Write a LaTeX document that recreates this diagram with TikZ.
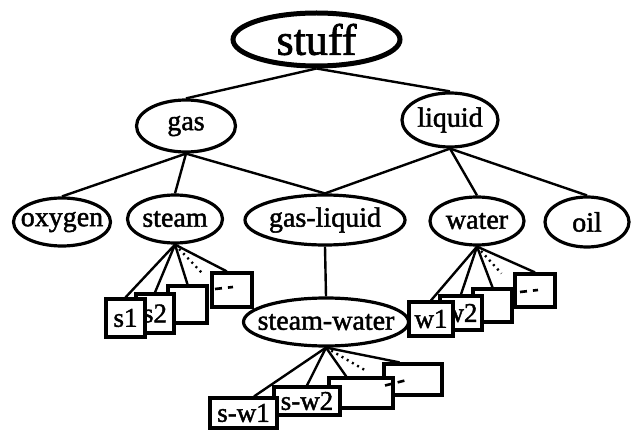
\documentclass[tikz,border=0pt]{standalone}
\usepackage{fontspec}
\setmainfont{Liberation Serif}[FakeBold=1.6]
\usetikzlibrary{shapes.geometric,calc,backgrounds}
\newcommand{\zw}[1]{\makebox[0pt][c]{#1}}
\begin{document}
\begin{tikzpicture}[x=1pt,y=-1pt,
  ell/.style={draw,ellipse,line width=3.2pt,inner sep=0pt,fill=white,font=\fontsize{28}{30}\selectfont},
  leaf/.style={draw,rectangle,line width=3.2pt,inner sep=0pt,fill=white,font=\fontsize{27}{29}\selectfont},
  link/.style={line width=2.4pt},
  more/.style={line width=2.4pt,dash pattern=on 2pt off 4pt},
  dashmark/.style={line width=2.6pt,dash pattern=on 7pt off 6pt}]
\useasboundingbox (0,0) rectangle (631,430);
% ellipses
\node[ell,line width=5pt,minimum width=167pt,minimum height=53pt,font=\fontsize{44}{46}\selectfont] (stuff) at (316.5,39.5) {\zw{stuff}};
\node[ell,minimum width=99pt,minimum height=52pt] (gas) at (186,126) {\zw{gas}};
\node[ell,minimum width=96pt,minimum height=54pt] (liquid) at (450,120) {\zw{liquid}};
\node[ell,minimum width=97pt,minimum height=48pt] (oxygen) at (62,222) {\zw{oxygen}};
\node[ell,minimum width=95pt,minimum height=48pt] (steam) at (175,219) {\zw{steam}};
\node[ell,minimum width=160pt,minimum height=50pt] (gasliquid) at (325,220) {\zw{gas-liquid}};
\node[ell,minimum width=94pt,minimum height=48pt] (water) at (477,221) {\zw{water}};
\node[ell,minimum width=84pt,minimum height=50pt] (oil) at (587,222) {\zw{oil}};
\node[ell,minimum width=165pt,minimum height=48pt] (steamwater) at (326,322) {\zw{steam-water}};
% steam instances (back to front)
\node[leaf,minimum width=40pt,minimum height=34pt] (s4) at (232,290) {};
\node[leaf,minimum width=39pt,minimum height=37pt] (s3) at (187.5,304.5) {};
\node[leaf,minimum width=38pt,minimum height=39pt] (s2) at (155,313.5) {s2};
\node[leaf,minimum width=39pt,minimum height=38pt] (s1) at (125.5,318) {s1};
% water instances
\node[leaf,minimum width=40pt,minimum height=33pt] (w4) at (535,290.5) {};
\node[leaf,minimum width=39pt,minimum height=33pt] (w3) at (492.5,305.5) {};
\node[leaf,minimum width=42pt,minimum height=34pt] (w2) at (461,313) {w2};
\node[leaf,minimum width=44pt,minimum height=34pt] (w1) at (431,319) {w1};
% steam-water instances
\node[leaf,minimum width=58pt,minimum height=31pt] (sw4) at (413,379.5) {};
\node[leaf,minimum width=64pt,minimum height=30pt] (sw3) at (361,393) {};
\node[leaf,minimum width=66pt,minimum height=28pt] (sw2) at (307,401) {s-w2};
\node[leaf,minimum width=67pt,minimum height=30pt] (sw1) at (243.5,413) {s-w1};
% free ends of the dotted "more" lines
\coordinate (smore) at ($(s4.north west)+(-9,1)$);
\coordinate (wmore) at ($(w4.north west)+(-12,1)$);
\coordinate (swmore) at ($(sw4.north west)+(-17,8)$);
\begin{pgfonlayer}{background}
\draw[link] (stuff.south) -- (gas.north);
\draw[link] (stuff.south) -- (liquid.north);
\draw[link] (gas.south) -- (oxygen.north);
\draw[link] (gas.south) -- (steam.north);
\draw[link] (gas.south) -- (gasliquid.north);
\draw[link] (liquid.south) -- (gasliquid.north);
\draw[link] (liquid.south) -- (water.north);
\draw[link] (liquid.south) -- (oil.north);
\draw[link] (gasliquid.south) -- (steamwater.north);
% steam fan
\draw[link] (steam.south) -- (s1.north);
\draw[link] (steam.south) -- (s2.north);
\draw[link] (steam.south) -- (s3.north);
\draw[more] (steam.south) -- (smore);
\draw[link] (steam.south) -- ($(s4.north west)!0.38!(s4.north east)$);
% water fan
\draw[link] (water.south) -- (w1.north);
\draw[link] (water.south) -- (w2.north);
\draw[link] (water.south) -- (w3.north);
\draw[more] (water.south) -- (wmore);
\draw[link] (water.south) -- (w4.north);
% steam-water fan
\draw[link] (steamwater.south) -- ($(sw1.north west)!0.65!(sw1.north east)$);
\draw[link] (steamwater.south) -- (sw2.north);
\draw[link] (steamwater.south) -- ($(sw3.north west)!0.28!(sw3.north east)$);
\draw[more] (steamwater.south) -- (swmore);
\draw[link] (steamwater.south) -- ($(sw4.north west)!0.28!(sw4.north east)$);
\end{pgfonlayer}
% ellipsis marks inside the last boxes
\draw[dashmark] ($(s4.center)+(-17,-1)$) -- ($(s4.center)+(1,-3)$);
\draw[dashmark] ($(w4.center)+(-15,1.5)$) -- ($(w4.center)+(3,-0.5)$);
\draw[dashmark] ($(sw4.center)+(-28,6)$) -- ($(sw4.center)+(-4,0)$);
\end{tikzpicture}
\end{document}
